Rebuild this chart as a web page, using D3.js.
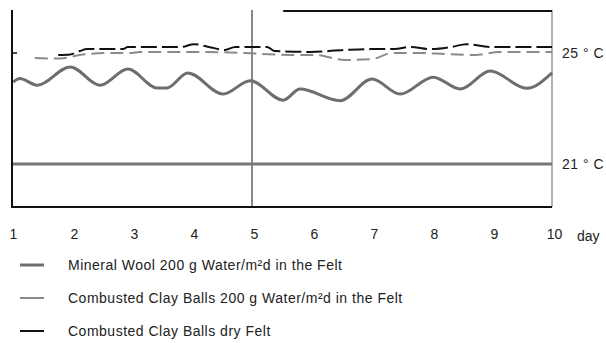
<!DOCTYPE html>
<html>
<head>
<meta charset="utf-8">
<script src="https://cdn.jsdelivr.net/npm/d3@7"></script>
<style>
  html, body { margin: 0; padding: 0; background: #fff; }
  svg { display: block; }
  text { font-family: "Liberation Sans", Arial, sans-serif; fill: #222; }
</style>
</head>
<body>
<svg id="chart" width="606" height="343"></svg>
<script>
// Greenhouse felt temperature over ten days
const days = [1, 2, 3, 4, 5, 6, 7, 8, 9, 10];
const refTemps = [25, 21];
const refLabels = ["25 ° C", "21 ° C"];

// Mineral wool, 200 g water/m²d in the felt
const woolDay  = [1.02, 1.13, 1.42, 1.97, 2.47, 2.93, 3.42, 3.58, 3.93, 4.52, 4.97, 5.52, 5.8, 6.47, 7.0, 7.47, 8.02, 8.47, 8.97, 9.58, 10];
const woolTemp = [23.95, 24.08, 23.84, 24.5, 23.84, 24.42, 23.74, 23.74, 24.28, 23.52, 24.0, 23.3, 23.7, 23.28, 24.06, 23.52, 24.13, 23.7, 24.35, 23.73, 24.28];

// Combusted clay balls, 200 g water/m²d in the felt
const clayWetDay  = [1.38, 1.8, 2.13, 2.55, 2.97, 3.13, 3.72, 4.05, 4.88, 5.63, 6.05, 6.55, 7.0, 7.33, 7.8, 8.22, 8.72, 9.13, 9.63, 10];
const clayWetTemp = [24.82, 24.80, 24.93, 25.0, 25.0, 25.04, 25.04, 25.04, 25.0, 24.93, 24.93, 24.75, 24.78, 25.0, 25.0, 24.96, 24.93, 25.04, 25.04, 25.04];

// Combusted clay balls, dry felt
const clayDryDay  = [1.77, 1.97, 2.13, 2.25, 2.85, 2.93, 3.33, 3.83, 4.03, 4.28, 4.55, 4.72, 5.25, 5.38, 5.97, 6.55, 6.97, 7.38, 7.63, 7.97, 8.33, 8.57, 8.97, 9.47, 10];
const clayDryTemp = [24.93, 24.95, 25.07, 25.14, 25.14, 25.22, 25.22, 25.22, 25.32, 25.22, 25.11, 25.22, 25.22, 25.07, 25.04, 25.11, 25.14, 25.14, 25.22, 25.14, 25.22, 25.32, 25.22, 25.22, 25.22];

const legendLabels = [
  "Mineral Wool 200 g Water/m²d in the Felt",
  "Combusted Clay Balls 200 g Water/m²d in the Felt",
  "Combusted Clay Balls dry Felt"
];

const svg = d3.select("#chart");
const x = d3.scaleLinear().domain([1, 10]).range([12, 552]);
const y = d3.scaleLinear().domain([19.45, 26.55]).range([207, 10]);

const series = [
  { day: woolDay,    temp: woolTemp,    color: "#6e6e6e", width: 3,   dash: null },
  { day: clayWetDay, temp: clayWetTemp, color: "#8a8a8a", width: 2,   dash: "13,6" },
  { day: clayDryDay, temp: clayDryTemp, color: "#111",    width: 2,   dash: "16,5" }
];

// frame: right edge and day-5 marker in grey, partial top rule in black
svg.append("line").attr("x1", x(10)).attr("x2", x(10)).attr("y1", y.range()[1]).attr("y2", y.range()[0])
  .attr("stroke", "#999").attr("stroke-width", 1.5);
svg.append("line").attr("x1", x(5)).attr("x2", x(5)).attr("y1", y.range()[1]).attr("y2", y.range()[0])
  .attr("stroke", "#888").attr("stroke-width", 2);
svg.append("line").attr("x1", x(5.52)).attr("x2", x(10)).attr("y1", y.range()[1] + 1).attr("y2", y.range()[1] + 1)
  .attr("stroke", "#111").attr("stroke-width", 2);

// 21 °C reference line
svg.append("line").attr("x1", x(1)).attr("x2", x(10)).attr("y1", y(21)).attr("y2", y(21))
  .attr("stroke", "#777").attr("stroke-width", 3);

// data lines
const line = d3.line().x(d => x(d[0])).y(d => y(d[1])).curve(d3.curveMonotoneX);
series.forEach(s => {
  svg.append("path")
    .datum(s.day.map((d, i) => [d, s.temp[i]]))
    .attr("d", line)
    .attr("fill", "none")
    .attr("stroke", s.color)
    .attr("stroke-width", s.width)
    .attr("stroke-dasharray", s.dash);
});

// left and bottom axis lines
svg.append("line").attr("x1", x(1)).attr("x2", x(1)).attr("y1", y.range()[1]).attr("y2", y.range()[0] + 1)
  .attr("stroke", "#111").attr("stroke-width", 2);
svg.append("line").attr("x1", x(1) - 1).attr("x2", x(10)).attr("y1", y.range()[0]).attr("y2", y.range()[0])
  .attr("stroke", "#111").attr("stroke-width", 2);
svg.append("line").attr("x1", x(1)).attr("x2", x(1) + 5).attr("y1", y(25)).attr("y2", y(25))
  .attr("stroke", "#111").attr("stroke-width", 1.5);

// day axis
const xAxis = d3.axisBottom(x).tickValues(days).tickFormat(d3.format("d")).tickSize(0).tickPadding(0);
const gx = svg.append("g").attr("transform", `translate(2,${y.range()[0] + 22})`).call(xAxis);
gx.select(".domain").remove();
gx.selectAll("text").style("font-size", "14px").style("fill", "#222")
  .style("font-family", "'Liberation Sans', Arial, sans-serif");
gx.selectAll(".tick").filter(d => d === 1).select("text").attr("dx", -1);
svg.append("text").attr("x", 577).attr("y", y.range()[0] + 34).style("font-size", "14px").text("day");

// right-hand temperature labels
refTemps.forEach((t, i) => {
  svg.append("text").attr("x", 562).attr("y", y(t) + 5).style("font-size", "14px")
    .style("letter-spacing", "0.5px").text(refLabels[i]);
});

// legend
const legendY = [265, 298, 331];
series.forEach((s, i) => {
  svg.append("line").attr("x1", 20).attr("x2", 44).attr("y1", legendY[i]).attr("y2", legendY[i])
    .attr("stroke", s.color).attr("stroke-width", s.width);
  svg.append("text").attr("x", 68).attr("y", legendY[i] + 5).style("font-size", "14px")
    .style("letter-spacing", "0.5px").text(legendLabels[i]);
});
</script>
</body>
</html>
